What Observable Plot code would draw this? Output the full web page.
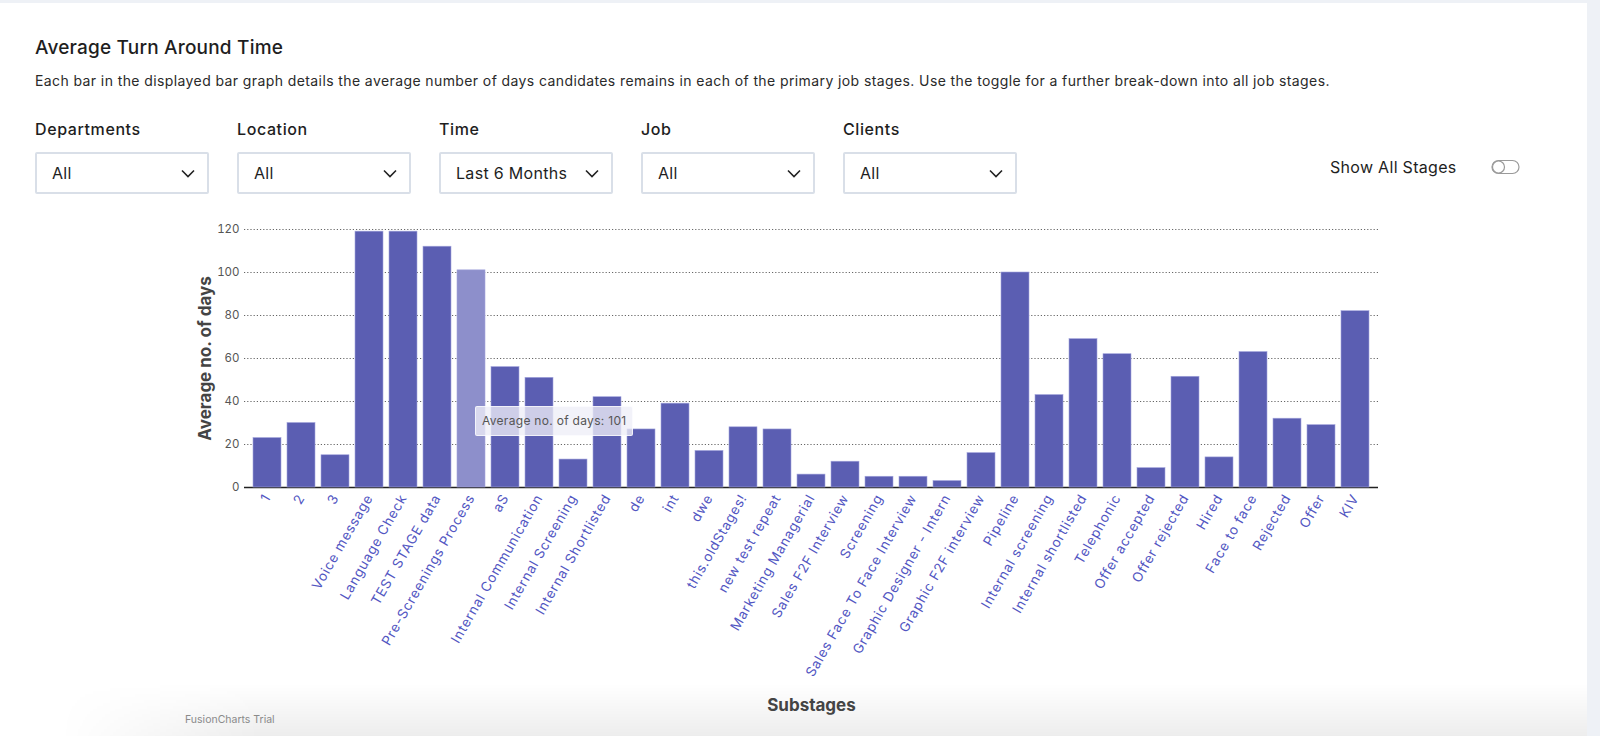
<!DOCTYPE html>
<html><head><meta charset="utf-8">
<script src="https://cdn.jsdelivr.net/npm/d3@7"></script>
<script src="https://cdn.jsdelivr.net/npm/@observablehq/plot@0.6"></script>
<style>
html,body{margin:0;padding:0;width:1600px;height:736px;overflow:hidden;background:#eef1f6;font-family:Inter,"Open Sans",sans-serif;}
#card{position:absolute;left:0;top:3px;width:1587px;height:733px;background:#fff;}
#title{position:absolute;left:35px;top:36px;font-size:19px;letter-spacing:0.2px;font-weight:500;color:#1e1e1e;white-space:nowrap;}
#desc{position:absolute;left:35px;top:72px;font-size:14px;letter-spacing:0.4px;color:#2a2a2a;white-space:nowrap;}
.flabel{position:absolute;top:119px;font-size:16px;letter-spacing:0.6px;font-weight:500;color:#1e1e1e;}
.sel{position:absolute;top:152px;width:174px;height:42px;box-sizing:border-box;border:2px solid #d9dfe8;border-radius:2px;background:#fff;}
.sel span{position:absolute;left:15px;top:0;line-height:38px;font-size:16px;letter-spacing:0.3px;color:#1e1e1e;}
.sel svg{position:absolute;right:12px;top:15px;}
#show{position:absolute;left:1330px;top:157px;font-size:16px;letter-spacing:0.3px;color:#1e1e1e;}
#toggle{position:absolute;left:1491px;top:159px;}
#shadow{position:absolute;left:0;top:684px;width:1587px;height:52px;background:linear-gradient(to bottom,rgba(0,0,0,0) 0%,rgba(0,0,0,0.07) 100%);-webkit-mask-image:linear-gradient(to right,transparent 60px,black 260px);mask-image:linear-gradient(to right,transparent 60px,black 260px);}
#chart{position:absolute;left:0;top:200px;}
#chart g[aria-label="x-axis tick label"] text{letter-spacing:0.8px;}
#tip{position:absolute;padding:0 6px;height:28px;line-height:28px;font-size:12px;letter-spacing:0.3px;color:#555;background:rgba(238,238,247,0.78);border:1px solid rgba(255,255,255,0.7);border-radius:2px;white-space:nowrap;}
#trial{position:absolute;left:185px;top:713px;font-size:10.5px;color:#8a8a8a;}
</style></head>
<body>
<div id="card"></div>
<div id="shadow"></div>
<div id="title">Average Turn Around Time</div>
<div id="desc">Each bar in the displayed bar graph details the average number of days candidates remains in each of the primary job stages. Use the toggle for a further break-down into all job stages.</div>
<div id="filters"></div>
<div id="show">Show All Stages</div>
<svg id="toggle" width="30" height="16" viewBox="0 0 30 16"><rect x="1" y="1.5" width="27" height="13" rx="6.5" fill="#fff" stroke="#9a9a9a" stroke-width="1.2"/><circle cx="7.5" cy="8" r="6" fill="#fff" stroke="#9a9a9a" stroke-width="1.2"/></svg>
<div id="chart"></div>
<div id="trial">FusionCharts Trial</div>
<script>
const categories = ["1","2","3","Voice message","Language Check","TEST STAGE data","Pre-Screenings Process","aS","Internal Communication","Internal Screening","Internal Shortlisted","de","int","dwe","this.oldStages!","new test repeat","Marketing Managerial","Sales F2F Interview","Screening","Sales Face To Face Interview","Graphic Designer - Intern","Graphic F2F interview","Pipeline","Internal screening","Internal shortlisted","Telephonic","Offer accepted","Offer rejected","Hired","Face to face","Rejected","Offer","KIV"];
const values = [23,30,15,119,119,112,101,56,51,13,42,27,39,17,28,27,6,12,5,5,3,16,100,43,69,62,9,51.5,14,63,32,29,82];
const yTicks = [0,20,40,60,80,100,120];
const highlighted = "Pre-Screenings Process";
const filterNames = ["Departments","Location","Time","Job","Clients"];
const filterValues = ["All","All","Last 6 Months","All","All"];

// filters
const f = document.getElementById("filters");
filterNames.forEach((n,i)=>{
  const left = 35 + i*202;
  const l = document.createElement("div"); l.className="flabel"; l.style.left=left+"px"; l.textContent=n; f.appendChild(l);
  const s = document.createElement("div"); s.className="sel"; s.style.left=left+"px";
  s.innerHTML = `<span>${filterValues[i]}</span><svg width="14" height="9" viewBox="0 0 14 9"><polyline points="1,1.5 7,7.5 13,1.5" fill="none" stroke="#222" stroke-width="1.6"/></svg>`;
  f.appendChild(s);
});

const data = categories.map((c,i)=>({stage:c, days:values[i]}));
const chart = Plot.plot({
  width:1587, height:536,
  marginLeft:244, marginRight:209, marginTop:29, marginBottom:249,
  style:{fontFamily:"Inter, 'Open Sans', sans-serif", background:"transparent", overflow:"visible"},
  x:{domain:categories, padding:0.18, label:null},
  y:{domain:[0,120], label:null},
  marks:[
    Plot.gridY(yTicks, {stroke:"#555", strokeOpacity:0.9, strokeDasharray:"1.2,2", strokeWidth:1}),
    Plot.ruleY([0], {stroke:"#222", strokeWidth:1.5}),
    Plot.barY(data, {x:"stage", y:"days", fill:d=>d.stage===highlighted?"#8d8fcb":"#5b5eb2", stroke:"#a3a5dc", strokeWidth:0.6}),
    Plot.axisY({ticks:yTicks, tickSize:0, tickPadding:5, fontSize:11.5, color:"#555", label:null}),
    Plot.axisX({tickSize:0, tickRotate:-60, tickPadding:8, fontSize:13.5, color:"#5256c2", label:null}),
    Plot.text(["Average no. of days"], {frameAnchor:"left", textAnchor:"middle", rotate:-90, dx:-39, fontSize:17, fontWeight:700, fill:"#444"}),
    Plot.text(["Substages"], {frameAnchor:"bottom", dy:223, fontSize:17, fontWeight:700, fill:"#444"})
  ]
});
document.getElementById("chart").appendChild(chart);

// hover tooltip derived from the plot's scales
const xs = chart.scale("x"), ys = chart.scale("y");
const tip = document.createElement("div"); tip.id="tip";
tip.textContent = "Average no. of days: " + values[categories.indexOf(highlighted)];
tip.style.left = (xs.apply(highlighted) + xs.bandwidth - 10) + "px";
tip.style.top = (200 + ys.apply(37.5)) + "px";
document.body.appendChild(tip);
</script>
</body></html>
